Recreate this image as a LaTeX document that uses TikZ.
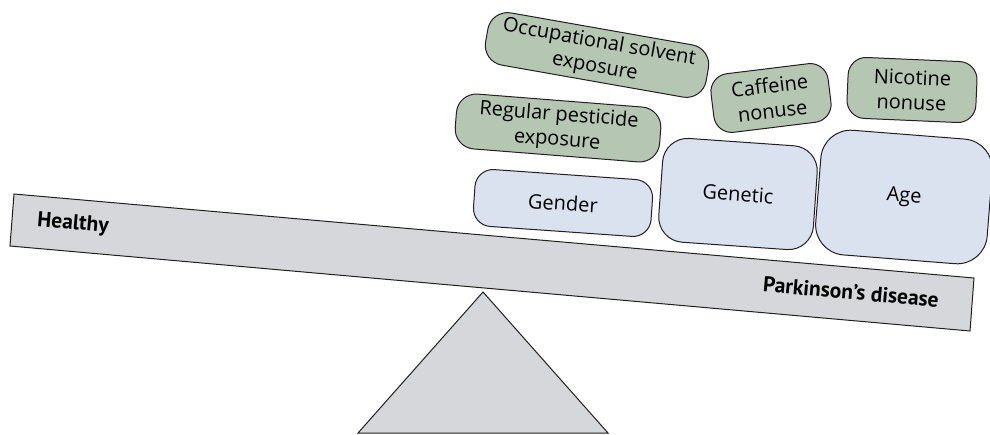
\documentclass[tikz,border=0pt]{standalone}
\usepackage{fontspec}
\setmainfont{Open Sans}
\newfontfamily\labelfont{PT Sans}
\definecolor{edge}{HTML}{231F20}
\definecolor{beamgrey}{HTML}{D6D7DB}
\definecolor{riskgreen}{HTML}{B5C7B2}
\definecolor{baseblue}{HTML}{DAE1EF}
\begin{document}
\begin{tikzpicture}[x=1pt,y=-1pt,
  anybox/.style={draw=edge, line width=1pt, align=center, inner sep=0pt, text=black,
    font=\fontsize{20}{25}\selectfont},
  riskbox/.style={anybox, fill=riskgreen},
  basebox/.style={anybox, fill=baseblue},
  beamlabel/.style={font=\labelfont\fontsize{21.5}{24}\selectfont\bfseries, text=black, inner sep=0pt, rotate=-5}]
\useasboundingbox (0,0) rectangle (990,434);
% beam
\coordinate (b1) at (14,194);
\coordinate (b2) at (974,278);
\coordinate (b3) at (970,331);
\coordinate (b4) at (10,246);
\draw[fill=beamgrey, draw=edge, line width=1pt] (b1) -- (b2) -- (b3) -- (b4) -- cycle;
% fulcrum
\coordinate (t1) at (483,292);
\coordinate (t2) at (608,433);
\coordinate (t3) at (358,433);
\draw[fill=beamgrey, draw=edge, line width=1pt] (t1) -- (t2) -- (t3) -- cycle;
% labels on beam
\node[beamlabel] (healthy) at (73,224) {Healthy};
\node[beamlabel] (pd) at (851,292) {Parkinson’s disease};
% base factors
\node[basebox, rotate=-4, minimum width=178, minimum height=57, rounded corners=18] (gender) at (563,203) {Gender};
\node[basebox, rotate=-4, minimum width=155, minimum height=104, rounded corners=25] (genetic) at (738,194) {Genetic};
\node[basebox, rotate=-4.5, minimum width=172, minimum height=125, rounded corners=30] (age) at (904,197) {Age};
% risk factors
\node[riskbox, rotate=-4.5, minimum width=205, minimum height=55, rounded corners=20] (pest) at (558,128) {Regular pesticide\\exposure};
\node[riskbox, rotate=-10, minimum width=224, minimum height=53, rounded corners=20] (occ) at (597,55) {Occupational solvent\\exposure};
\node[riskbox, rotate=7, minimum width=118, minimum height=59, rounded corners=18] (caff) at (771,98) {Caffeine\\nonuse};
\node[riskbox, rotate=-2.5, minimum width=129, minimum height=61, rounded corners=18] (nic) at (912,90) {Nicotine\\nonuse};
\end{tikzpicture}
\end{document}
